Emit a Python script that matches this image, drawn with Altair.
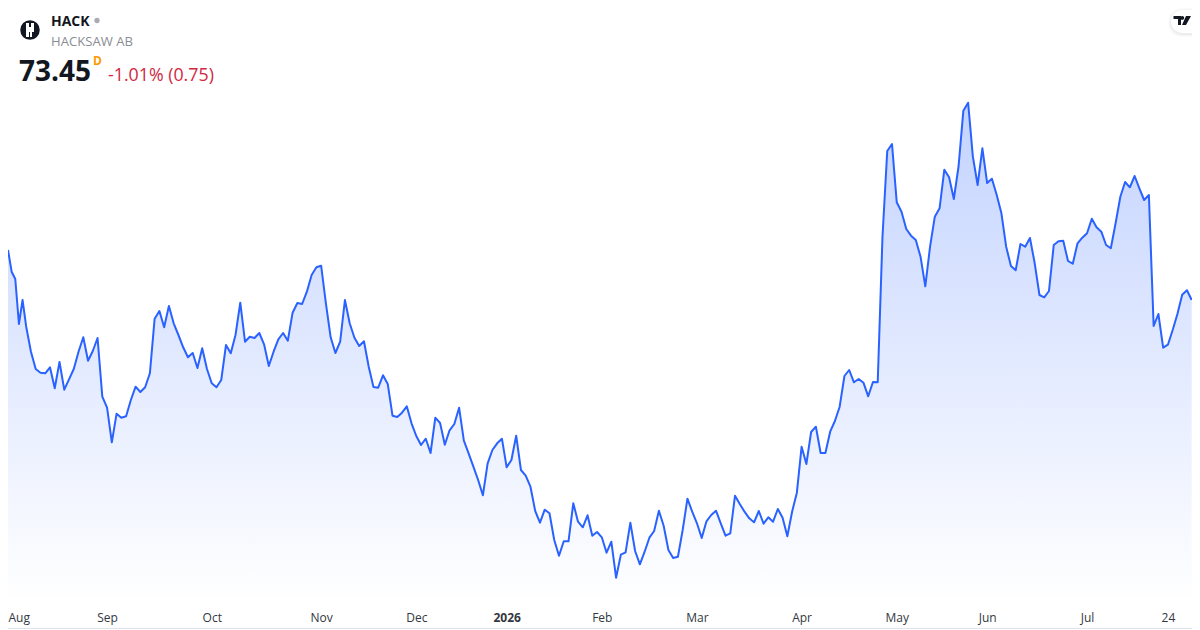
import json
import altair as alt
import pandas as pd

SYMBOL = "HACK"
NAME = "HACKSAW AB"
LAST = "73.45"
INTERVAL = "D"
CHANGE = "-1.01% (0.75)"

prices_a = [78.45, 76.28, 75.55, 71.05, 73.45, 70.78, 68.28, 66.55, 66.18, 66.12, 66.72, 64.62, 67.25, 64.48, 65.52, 66.55,
            68.28, 69.72, 67.38, 68.35, 69.65, 63.78, 62.68, 59.22, 62.08, 61.68, 61.82, 63.45, 64.78, 64.25, 64.72, 66.12,
            71.58, 72.35, 70.72, 72.85, 71.12, 69.95, 68.72, 67.72, 68.15, 66.65, 68.62, 66.55, 65.12, 64.72, 65.45, 68.95,
            68.12, 69.95, 73.18, 69.28, 69.78, 69.65, 70.15, 69.02, 66.85, 68.28, 69.52, 70.15, 69.38, 72.18, 73.15]
prices_b = [73.05, 74.28, 75.95, 76.72, 76.88, 73.12, 69.72, 68.15, 69.28, 73.45, 71.12, 69.68, 68.85, 69.32, 66.78, 64.75,
            64.68, 65.92, 65.05, 61.88, 61.75, 62.18, 62.82, 61.12, 59.85, 58.95, 59.58, 58.15, 61.68, 61.15, 58.98, 60.42,
            61.05, 62.68, 59.38, 58.12, 56.78, 55.45, 53.92, 57.12, 58.45, 59.12, 59.58, 56.72, 57.45, 59.88, 56.45, 55.88,
            54.78, 52.35, 51.18, 52.48, 52.12, 49.45, 47.88, 49.32, 49.32, 53.12, 51.28, 50.72, 51.92, 49.88, 50.25]
prices_c = [49.72, 48.18, 49.28, 45.68, 47.98, 48.22, 51.18, 48.35, 47.02, 48.28, 49.68, 50.35, 52.38, 50.88, 48.45, 47.65,
            47.78, 50.45, 53.58, 52.28, 51.12, 49.65, 51.32, 51.95, 52.38, 51.12, 49.88, 50.12, 53.88, 53.05, 52.28, 51.62,
            51.22, 52.35, 51.08, 51.72, 51.28, 52.55, 51.68, 49.82, 52.28, 54.18, 58.78, 57.05, 60.25, 60.78, 58.15, 58.15,
            60.28, 61.35, 62.78, 65.85, 66.45, 65.22, 65.55, 65.18, 63.82, 65.25, 65.22]
prices_d = [79.78, 88.35, 89.05, 83.22, 82.28, 80.55, 79.88, 79.45, 77.78, 74.82, 78.78, 81.78, 82.62, 86.48, 85.72, 83.55,
            86.85, 92.38, 93.18, 87.78, 84.95, 88.62, 85.15, 85.58, 83.98, 82.12, 78.78, 76.85, 76.42, 79.05, 78.78, 79.65,
            77.12, 73.95, 73.72, 74.35, 78.95, 79.32, 79.38, 77.35, 77.08, 79.12, 79.68, 80.12, 81.58, 80.72, 80.28, 78.95,
            78.62, 81.12, 83.78, 85.25, 84.72, 85.85, 84.62, 83.45, 83.95, 70.85, 72.05, 68.68, 68.98, 70.45, 72.05, 73.98,
            74.42, 73.45]
tick_bars = [0, 22, 44, 67, 87, 106, 126, 146, 168, 188, 207, 228, 245]
tick_labels = ["Aug", "Sep", "Oct", "Nov", "Dec", "2026", "Feb", "Mar", "Apr", "May", "Jun", "Jul", "24"]
FLOOR = 43.25
CEILING = 102.65

prices = prices_a + prices_b + prices_c + prices_d
df = pd.DataFrame({"bar": list(range(len(prices))), "price": prices, "floor": [FLOOR] * len(prices)})
last_bar = len(prices) - 1

FONT = "Open Sans"
W, H = 1184, 594
LINE = "#2962FF"

x_scale = alt.Scale(domain=[0, 5, last_bar], range=[0, 18.2, 1183.7], nice=False, zero=False)
y_scale = alt.Scale(domain=[FLOOR, CEILING], nice=False, zero=False)

label_expr = f"{json.dumps(tick_labels)}[indexof({json.dumps(tick_bars)}, datum.value)]"
x_axis = alt.Axis(
    values=tick_bars, labelExpr=label_expr, title=None, grid=False, domain=False, ticks=False,
    labelFont=FONT, labelFontSize=12, labelColor="#333741", labelPadding=10, labelOverlap=False,
    labelBound=False, labelFlush=False,
    labelFontWeight={"condition": {"test": "datum.value === 106", "value": "bold"}, "value": "normal"},
    labelAlign={"condition": {"test": "datum.value === 0", "value": "left"}, "value": "center"},
)

base = alt.Chart(df)
gradient = alt.Gradient(
    gradient="linear", x1=1, x2=1, y1=0, y2=1,
    stops=[alt.GradientStop(color="rgba(41,98,255,0.28)", offset=0),
           alt.GradientStop(color="rgba(41,98,255,0.0)", offset=1)],
)
area = base.mark_area(fill=gradient, line=False).encode(
    x=alt.X("bar:Q", scale=x_scale, axis=x_axis),
    y=alt.Y("price:Q", scale=y_scale, axis=None),
    y2=alt.Y2("floor:Q"),
)
line = base.mark_line(color=LINE, strokeWidth=2, strokeJoin="round", strokeCap="butt").encode(
    x=alt.X("bar:Q", scale=x_scale, axis=x_axis),
    y=alt.Y("price:Q", scale=y_scale, axis=None),
)


def label(text, x, y, size, color, weight="normal", align="left"):
    return alt.Chart(df.head(1)).mark_text(
        text=text, font=FONT, fontSize=size, color=color, fontWeight=weight, align=align, baseline="middle"
    ).encode(x=alt.value(x), y=alt.value(y))


def glyph(path, x, y, color, size=4):
    return alt.Chart(df.head(1)).mark_point(
        shape=path, size=size, filled=True, color=color, opacity=1, strokeWidth=0
    ).encode(x=alt.value(x), y=alt.value(y))


H_PATH = "M-4 -7H-1V-3H1V-7H4V2H2V7H0V2H-1V7H-4Z"
TV_PATH = ("M-9 -4.5H-1.5V4.5H-4.5V-1.5H-9Z "
           "M3.5 4.5H-0.5L3.5 -4.5H8.5Z "
           "M-0.2 -4.5A1.9 1.9 0 1 1 -0.2 -0.7A1.9 1.9 0 1 1 -0.2 -4.5Z")

shadow = [
    alt.Chart(df.head(1)).mark_rect(cornerRadius=13, color="#000000", opacity=op).encode(
        x=alt.value(1163 - grow), x2=alt.value(1200), y=alt.value(2 - grow + 1), y2=alt.value(25 + grow + 1)
    )
    for grow, op in [(3, 0.015), (2, 0.025), (1, 0.03)]
]
pill = alt.Chart(df.head(1)).mark_rect(cornerRadius=12, color="#ffffff").encode(
    x=alt.value(1163), x2=alt.value(1200), y=alt.value(2), y2=alt.value(25)
)
bottom_edge = alt.Chart(df.head(1)).mark_rule(color="#E0E3EB", strokeWidth=1).encode(
    x=alt.value(0), x2=alt.value(W), y=alt.value(620.5)
)

chart = alt.layer(
    area, line,
    glyph("circle", 22, 22, "#131722", size=380),
    glyph(H_PATH, 22, 22, "#ffffff"),
    label(SYMBOL, 43, 14, 14, "#131722", "bold"),
    glyph("circle", 89, 12.5, "#A9ABB0", size=28),
    label(NAME, 43, 34, 13.1, "#8A8D94"),
    label(LAST, 11, 65, 28, "#131722", "bold"),
    label(INTERVAL, 85, 53, 12, "#FF9800", "bold"),
    label(CHANGE, 100, 68, 17.8, "#D1283F"),
    *shadow, pill,
    glyph(TV_PATH, 1174.5, 12.5, "#131722"),
    bottom_edge,
).properties(
    width=W, height=H, background="#ffffff",
    padding={"left": 0, "top": 0, "right": 0, "bottom": 28},
    autosize=alt.AutoSizeParams(type="none"),
).configure_view(stroke=None)

chart.save("out.html", embed_options={"renderer": "svg", "actions": False})
